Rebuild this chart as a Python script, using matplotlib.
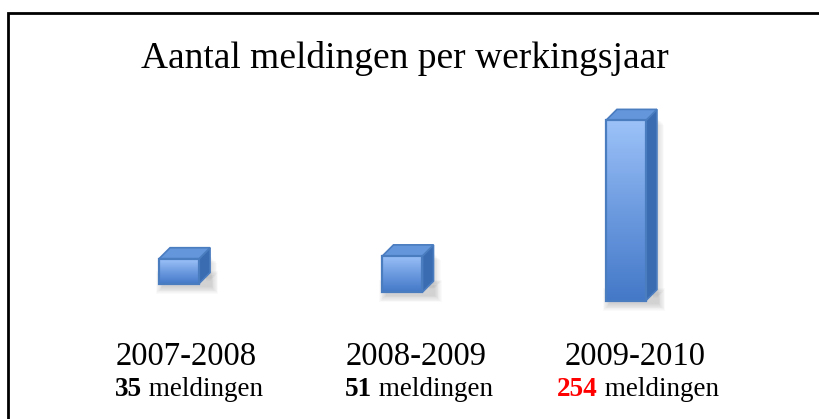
import matplotlib.pyplot as plt
import numpy as np
from matplotlib.patches import Polygon, Rectangle
import matplotlib.colors as mcolors

plt.rcParams['font.family'] = ['Liberation Serif', 'DejaVu Serif']

# data
jaren = ['2007-2008', '2008-2009', '2009-2010']
meldingen = [35, 51, 254]
getal_kleur = ['black', 'black', 'red']
titel = 'Aantal meldingen per werkingsjaar'

W, H = 819, 419
fig = plt.figure(figsize=(W / 100, H / 100), dpi=100)

# bar axes: left 7px, top 14px from the top of the figure
ax = fig.add_axes([7 / W, 0, 1 - 7 / W, 405 / H])
ax.set_xlim(-0.770, 2.864)
ax.set_ylim(-179, 392)
ax.axis('off')

fig.canvas.draw()
p0 = ax.transData.transform((0, 0))
p1 = ax.transData.transform((1, 1))
px_x = p1[0] - p0[0]       # pixels per x unit
px_y = p1[1] - p0[1]       # pixels per value unit

breedte = 40 / px_x
diepte_x = 11 / px_x
diepte_y = 11 / px_y
kanteling = 8.5 / px_y      # perspective: baseline drops to the right

gradient = mcolors.LinearSegmentedColormap.from_list(
    'voor', ['#4479c8', '#6d9be0', '#9cc2f8'])
rand = '#4a7cc0'

for i, v in enumerate(meldingen):
    b = -kanteling * (i - 1)
    l = i - breedte / 2
    r = i + breedte / 2
    t = b + v

    # soft shadow: below the bar and along the right side
    for k in range(9, 0, -1):
        sx = k * 0.8 / px_x
        sy = k * 0.8 / px_y
        onder = Rectangle((l + 4 / px_x - sx, b - 3 / px_y - sy),
                          r - l + diepte_x - 3 / px_x + 2 * sx,
                          8 / px_y + 2 * sy,
                          facecolor='black', alpha=0.02, edgecolor='none',
                          zorder=1)
        ax.add_patch(onder)
        rechts = Rectangle((r + diepte_x - 4 / px_x, b + 2 / px_y + sy),
                           4 / px_x + sx, v + diepte_y - 10 / px_y - 2 * sy,
                           facecolor='black', alpha=0.014, edgecolor='none',
                           zorder=1)
        ax.add_patch(rechts)

    # side face
    zij = Polygon([(r, b), (r + diepte_x, b + diepte_y),
                   (r + diepte_x, t + diepte_y), (r, t)],
                  closed=True, facecolor='#3a6cb2', edgecolor=rand,
                  linewidth=1.2, zorder=3)
    ax.add_patch(zij)

    # top face
    top = Polygon([(l, t), (r, t), (r + diepte_x, t + diepte_y),
                   (l + diepte_x, t + diepte_y)],
                  closed=True, facecolor='#6396da', edgecolor=rand,
                  linewidth=1.2, zorder=3)
    ax.add_patch(top)

    # front face with gradient
    voor = Rectangle((l, b), r - l, v, facecolor='none', edgecolor=rand,
                     linewidth=1.6, zorder=5)
    ax.add_patch(voor)
    im = ax.imshow(np.linspace(0, 1, 100).reshape(-1, 1), cmap=gradient,
                   extent=(l, r, b, t), origin='lower', aspect='auto',
                   zorder=4)
    im.set_clip_path(voor)

ax.set_xlim(-0.770, 2.864)
ax.set_ylim(-179, 392)

# title
fig.text(405 / W, 1 - 58 / H, titel, ha='center', va='center', fontsize=27)

# category labels
trans = ax.get_xaxis_transform()
xverschuiving = [0.033, 0.062, 0.039]
for i, j in enumerate(jaren):
    ax.text(i + xverschuiving[i], (419 - 365) / 405, j, transform=trans,
            ha='center', va='baseline', fontsize=23.5)

fig.canvas.draw()
renderer = fig.canvas.get_renderer()
for i, (v, c) in enumerate(zip(meldingen, getal_kleur)):
    xc = ax.transData.transform((i + xverschuiving[i], 0))[0] + 3
    yb = 419 - 396
    t1 = fig.text(0, yb / H, str(v), color=c, fontweight='bold',
                  ha='left', va='baseline', fontsize=19.5)
    t2 = fig.text(0, yb / H, '\u00a0meldingen', color='black',
                  ha='left', va='baseline', fontsize=19.5)
    w1 = t1.get_window_extent(renderer).width
    w2 = t2.get_window_extent(renderer).width
    start = xc - (w1 + w2) / 2
    t1.set_x(start / W)
    t2.set_x((start + w1) / W)

# frame
fig.patches.append(Rectangle((7.5 / W, -0.1), 1.1, 1 - 13.5 / H + 0.1,
                             transform=fig.transFigure, fill=False,
                             edgecolor='black', linewidth=2, zorder=10))

fig.savefig('out.png', dpi=100)
